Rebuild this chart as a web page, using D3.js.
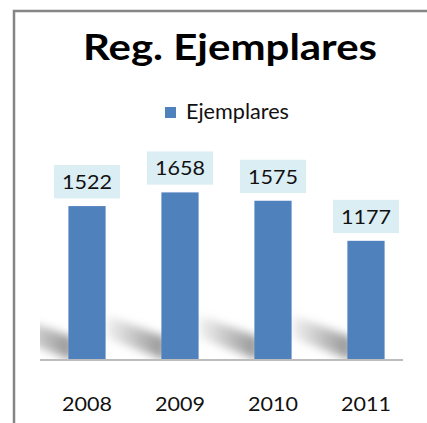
<!DOCTYPE html>
<html>
<head>
<meta charset="utf-8">
<script src="https://cdn.jsdelivr.net/npm/d3@7"></script>
<style>
  body { margin: 0; background: #fff; }
  svg { display: block; }
  text { font-family: Lato, "Open Sans", sans-serif; fill: #111; }
</style>
</head>
<body>
<script>
// chart data
var chartTitle = "Reg. Ejemplares";
var seriesName = "Ejemplares";
var years = ["2008", "2009", "2010", "2011"];
var ejemplares = [1522, 1658, 1575, 1177];

var width = 427, height = 423;

var svg = d3.select("body").append("svg")
	.attr("width", width)
	.attr("height", height);

var defs = svg.append("defs");
defs.append("filter").attr("id", "blur")
	.attr("x", "-50%").attr("y", "-50%").attr("width", "200%").attr("height", "200%")
	.append("feGaussianBlur").attr("stdDeviation", 4.5);
var grad = defs.append("linearGradient").attr("id", "shadeGrad")
	.attr("x1", "0").attr("x2", "1").attr("y1", "0").attr("y2", "0");
grad.append("stop").attr("offset", "0").attr("stop-color", "#888").attr("stop-opacity", 0.1);
grad.append("stop").attr("offset", "0.6").attr("stop-color", "#808080").attr("stop-opacity", 0.55);
grad.append("stop").attr("offset", "1").attr("stop-color", "#777").attr("stop-opacity", 0.8);
defs.append("clipPath").attr("id", "plotClip")
	.append("rect").attr("x", 40).attr("y", 150).attr("width", 363).attr("height", 209);

// frame (chart area border, cut by the picture edges)
svg.append("path")
	.attr("d", "M14," + height + "V11H" + width)
	.attr("fill", "none")
	.attr("stroke", "#858585")
	.attr("stroke-width", 2.5);

// title
fitText(svg.append("text")
	.attr("x", 230).attr("y", 59.5)
	.attr("text-anchor", "middle")
	.style("font-size", "36px")
	.style("font-weight", "bold")
	.style("fill", "#000")
	.text(chartTitle), 294);

// legend
var legend = svg.append("g").attr("transform", "translate(165,107)");
legend.append("rect").attr("width", 11).attr("height", 11).attr("fill", "#4f81bd");
fitText(legend.append("text")
	.attr("x", 21).attr("y", 12.3)
	.style("font-size", "21px")
	.text(seriesName), 103);

// scales
var xScale = d3.scaleBand()
	.domain(years)
	.range([40.5, 412.5])
	.paddingInner(0.6)
	.paddingOuter(0.3);
var yScale = d3.scaleLinear()
	.domain([0, 1800])
	.range([359.3, 178.1]);

var data = years.map(function(y, i) { return { year: y, value: ejemplares[i] }; });

// soft floor shadows behind the bars
svg.append("g").attr("clip-path", "url(#plotClip)")
	.selectAll("path").data(data)
	.enter().append("path")
	.attr("d", function(d) {
		var x0 = xScale(d.year), b = yScale(0);
		return "M" + (x0 - 56) + "," + (b - 44) +
			"L" + (x0 + 4) + "," + (b - 22) +
			"L" + (x0 + 4) + "," + (b + 1) +
			"L" + (x0 - 56) + "," + (b - 22) + "Z";
	})
	.attr("fill", "url(#shadeGrad)")
	.attr("filter", "url(#blur)");

// bars
svg.append("g").selectAll("rect").data(data)
	.enter().append("rect")
	.attr("x", function(d) { return xScale(d.year); })
	.attr("y", function(d) { return yScale(d.value); })
	.attr("width", xScale.bandwidth())
	.attr("height", function(d) { return yScale(0) - yScale(d.value); })
	.attr("fill", "#4f81bd");

// category axis
svg.append("line")
	.attr("x1", 40).attr("x2", 403)
	.attr("y1", yScale(0) + 0.7).attr("y2", yScale(0) + 0.7)
	.attr("stroke", "#bdbdbd").attr("stroke-width", 2);

var xAxis = d3.axisBottom(xScale).tickSize(0).tickPadding(0);
var axisG = svg.append("g")
	.attr("transform", "translate(0," + yScale(0) + ")")
	.call(xAxis);
axisG.select(".domain").remove();
axisG.selectAll("text")
	.attr("y", 51.4).attr("dy", 0)
	.attr("font-family", null).attr("font-size", null).attr("fill", null)
	.style("font-size", "19.5px")
	.each(function() { fitText(d3.select(this), 50); });

// data labels
var labels = svg.append("g").selectAll("g").data(data)
	.enter().append("g")
	.attr("transform", function(d) {
		return "translate(" + (xScale(d.year) + xScale.bandwidth() / 2) + "," + (yScale(d.value) - 7.7) + ")";
	});
labels.append("rect")
	.attr("x", -33).attr("y", -33.3)
	.attr("width", 66).attr("height", 33.3)
	.attr("fill", "#dbeef4");
labels.append("text")
	.attr("text-anchor", "middle")
	.attr("y", -9.3)
	.style("font-size", "20px")
	.text(function(d) { return d.value; })
	.each(function() { fitText(d3.select(this), 50); });

// stretch a text to the width it has in the picture
function fitText(sel, w) {
	sel.attr("textLength", w).attr("lengthAdjust", "spacingAndGlyphs");
	return sel;
}
</script>
</body>
</html>
